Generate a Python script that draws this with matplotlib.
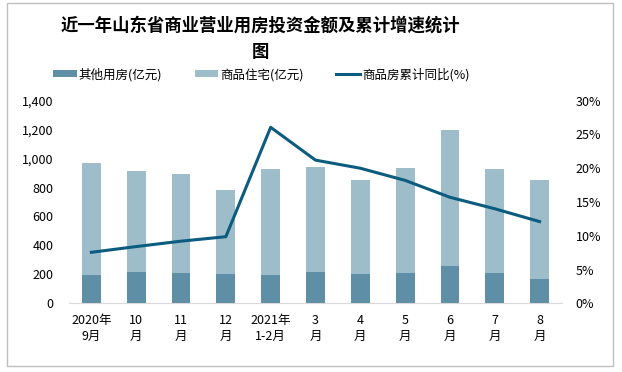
import matplotlib
matplotlib.use("Agg")
import matplotlib.pyplot as plt
from matplotlib.patches import Rectangle
import numpy as np

plt.rcParams['font.family'] = ['Noto Sans CJK SC', 'DejaVu Sans']

months = ["2020年\n9月", "10\n月", "11\n月", "12\n月", "2021年\n1-2月", "3\n月",
          "4\n月", "5\n月", "6\n月", "7\n月", "8\n月"]
other = [196, 216, 209, 202, 195, 216, 202, 209, 258, 210, 168]
total = [970, 912, 891, 783, 928, 944, 852, 935, 1197, 928, 850]
growth = [7.55, 8.4, 9.2, 9.86, 26.06, 21.2, 20.0, 18.2, 15.7, 14.0, 12.1]
residential = [t - o for t, o in zip(total, other)]


def main():
    fig = plt.figure(figsize=(6.22, 3.72), dpi=100)
    fig.patches.append(Rectangle((7 / 622, 6 / 372), 606 / 622, 363 / 372,
                                 transform=fig.transFigure, fill=False,
                                 edgecolor='#bfbfbf', linewidth=1))
    ax = fig.add_axes([0.1109, 0.1847, 0.7926, 0.5446])
    x = np.arange(len(months))
    b1 = ax.bar(x, other, width=0.42, color='#5e8fa6', label='其他用房(亿元)')
    b2 = ax.bar(x, residential, width=0.42, bottom=other, color='#9dbdcb',
                label='商品住宅(亿元)')
    ax.set_xlim(-0.5, len(months) - 0.5)
    ax.set_ylim(0, 1400)
    ax.set_yticks(range(0, 1401, 200))
    ax.set_yticklabels([f"{v:,}" for v in range(0, 1401, 200)])
    ax.set_xticks(x)
    ax.set_xticklabels(months, fontsize=9, linespacing=1.25)
    for s in ['top', 'right', 'left']:
        ax.spines[s].set_visible(False)
    ax.spines['bottom'].set_color('#d9d9d9')
    ax.tick_params(axis='both', length=0, labelsize=9, pad=8)
    ax.tick_params(axis='y', pad=11)

    ax2 = ax.twinx()
    l1, = ax2.plot(x, growth, color='#0b5c7e', linewidth=2.2,
                   label='商品房累计同比(%)')
    ax2.set_ylim(0, 30)
    ax2.set_yticks(range(0, 31, 5))
    ax2.set_yticklabels([f"{v}%" for v in range(0, 31, 5)])
    for s in ['top', 'right', 'left', 'bottom']:
        ax2.spines[s].set_visible(False)
    ax2.tick_params(axis='y', length=0, labelsize=9, pad=10)

    fig.text(0.418, 0.895, "近一年山东省商业营业用房投资金额及累计增速统计\n图",
             ha='center', va='center', fontsize=12.5, fontweight='bold',
             linespacing=1.6)
    fig.legend(handles=[b1, b2, l1], loc='center', bbox_to_anchor=(0.42, 0.80),
               ncol=3, frameon=False, fontsize=9, handlelength=1.9,
               handleheight=0.5, handletextpad=0.15, columnspacing=2.6)
    fig.savefig("out.png", dpi=100)


if __name__ == '__main__':
    main()
